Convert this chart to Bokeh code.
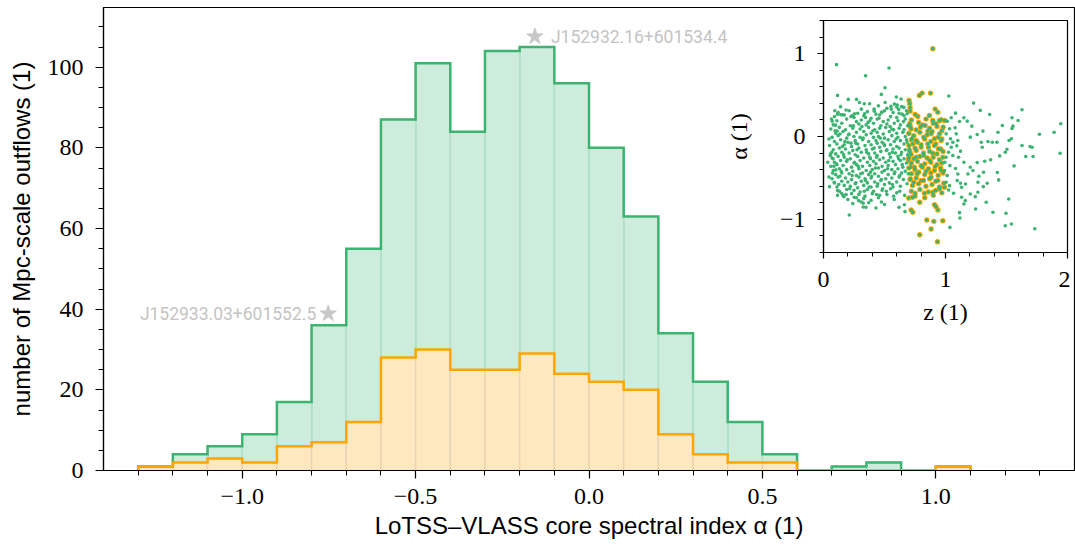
from bokeh.plotting import figure
from bokeh.models import FixedTicker, Range1d
from bokeh.layouts import column
from bokeh.core.properties import value
from bokeh.embed import file_html
from bokeh.resources import INLINE

# ---------------- data ----------------
bin_edges = [-1.3, -1.2, -1.1, -1.0, -0.9, -0.8, -0.7, -0.6, -0.5, -0.4, -0.3, -0.2,
             -0.1, 0.0, 0.1, 0.2, 0.3, 0.4, 0.5, 0.6, 0.7, 0.8, 0.9, 1.0, 1.1]
all_counts = [1, 4, 6, 9, 17, 36, 55, 87, 101, 84, 104, 105, 96, 80, 63, 34, 22, 12, 4, 0, 1, 2, 0, 1]
sub_counts = [1, 2, 3, 2, 6, 7, 12, 28, 30, 25, 25, 29, 24, 22, 20, 9, 4, 2, 2, 0, 0, 0, 0, 1]

x_major = [-1.0, -0.5, 0.0, 0.5, 1.0]
x_major_labels = ["\u22121.0", "\u22120.5", "0.0", "0.5", "1.0"]
x_minor = [-1.3, -1.2, -1.1, -1.0, -0.9, -0.8, -0.7, -0.6, -0.5, -0.4, -0.3, -0.2, -0.1,
           0.0, 0.1, 0.2, 0.3, 0.4, 0.5, 0.6, 0.7, 0.8, 0.9, 1.0, 1.1, 1.2, 1.3]
y_major = [0, 20, 40, 60, 80, 100]
y_minor = [0, 5, 10, 15, 20, 25, 30, 35, 40, 45, 50, 55, 60, 65, 70, 75, 80, 85, 90, 95, 100, 105, 110]

star_alpha = [-0.156, -0.752]
star_count = [107.6, 38.9]
star_names = ["J152932.16+601534.4", "J152933.03+601552.5"]

# inset: (z, alpha)
green_sparse = [
    (0.107, 0.867), (0.345, 0.734), (0.537, 0.827), (0.115, 0.496), (0.203, 0.448), (0.271, 0.448),
    (0.334, 0.395), (0.378, 0.395), (0.504, 0.589), (0.474, 0.508), (0.597, 0.476), (0.636, 0.452),
    (0.581, 0.391), (0.093, 0.31), (0.071, 0.185), (0.142, 0.262), (0.159, 0.262), (0.238, 0.254),
    (0.255, 0.274), (0.337, 0.274), (0.416, 0.306), (0.479, 0.294), (0.553, 0.363), (0.6, 0.355),
    (0.616, 0.327), (0.658, 0.351), (0.685, 0.274), (0.099, 0.137), (0.112, 0.065),
    (1.027, 0.488), (1.23, 0.403), (1.285, 0.315), (1.627, 0.323), (1.362, 0.266), (1.178, 0.185),
    (1.151, 0.226), (1.047, 0.226), (1.082, 0.282), (1.545, 0.226), (1.595, 0.194), (1.466, 0.133),
    (1.553, 0.125), (1.545, 0.097), (1.945, 0.153), (1.89, 0.052), (1.77, 0.028), (1.43, 0.052),
    (1.307, 0.065), (1.26, 0.024), (1.216, 0.125), (1.079, 0.105), (1.115, 0.181), (1.203, -0.008),
    (1.54, -0.028), (1.521, -0.048), (1.627, -0.109), (1.693, -0.121), (1.71, -0.129), (1.94, -0.202),
    (1.718, -0.242), (1.504, -0.153), (1.49, -0.19), (1.422, -0.069), (1.384, -0.069), (1.348, -0.06),
    (1.301, -0.129), (1.293, -0.069), (1.444, -0.234), (1.562, -0.355), (1.658, -0.242), (1.37, -0.282),
    (1.321, -0.298), (1.26, -0.315), (1.123, -0.177), (1.093, -0.113), (1.06, -0.23), (1.203, -0.371),
    (1.312, -0.431), (1.274, -0.48), (1.164, -0.573), (1.132, -0.613), (1.123, -0.565), (1.342, -0.565),
    (1.31, -0.605), (1.266, -0.673), (1.244, -0.726), (1.203, -0.694), (1.162, -0.774), (1.151, -0.815),
    (1.334, -0.794), (1.247, -0.875), (1.389, -0.915), (1.518, -0.754), (1.496, -0.927), (1.54, -1.056),
    (1.49, -1.077), (1.732, -1.113), (1.115, -0.919), (1.118, -0.984), (1.036, -1.097), (1.082, -0.387),
    (1.101, -0.452), (1.096, -0.532), (1.033, -0.593), (1.066, -0.685), (1.132, -0.734), (1.184, -0.452),
    (1.225, -0.411), (1.425, -0.435), (1.436, -0.524), (1.266, -0.552), (1.107, -0.25), (1.151, -0.31),
    (0.211, -0.948), (0.619, -0.855), (0.663, -0.823), (0.668, -0.907), (0.43, -0.863), (0.348, -0.855),
    (0.326, -0.806), (0.288, -0.774), (0.252, -0.734), (0.167, -0.726), (0.148, -0.685), (0.115, -0.653),
    (0.049, -0.605), (0.088, -0.552), (0.101, -0.403), (0.068, -0.19), (0.058, -0.21), (0.079, -0.27),
    (1.014, 0.185), (1.033, 0.093), (1.005, 0.032), (1.041, -0.028), (1.014, -0.089), (1.047, -0.129),
    (1.025, -0.19), (1.005, -0.25), (0.995, -0.31), (1.036, -0.351), (0.992, -0.411), (1.014, -0.472),
    (1.005, -0.552), (1.025, -0.645), (1.088, 0.032), (1.101, -0.048), (1.06, -0.069),
]

green_cloud = [
    (0.14, 0.36), (0.31, 0.33), (0.45, 0.37), (0.52, 0.34), (0.64, 0.36),
    (0.12, 0.29), (0.21, 0.31), (0.28, 0.28), (0.36, 0.30), (0.43, 0.27), (0.50, 0.31), (0.57, 0.29), (0.62, 0.28), (0.68, 0.31),
    (0.09, 0.24), (0.17, 0.26), (0.25, 0.23), (0.33, 0.25), (0.39, 0.22), (0.46, 0.26), (0.55, 0.24), (0.60, 0.23), (0.66, 0.25),
    (0.11, 0.19), (0.19, 0.21), (0.27, 0.18), (0.31, 0.20), (0.38, 0.19), (0.44, 0.21), (0.49, 0.18), (0.53, 0.20), (0.61, 0.19), (0.67, 0.21),
    (0.08, 0.14), (0.15, 0.16), (0.22, 0.13), (0.29, 0.15), (0.35, 0.14), (0.41, 0.16), (0.47, 0.13), (0.52, 0.15), (0.58, 0.16), (0.63, 0.14), (0.69, 0.13),
    (0.06, 0.09), (0.13, 0.11), (0.18, 0.08), (0.24, 0.10), (0.30, 0.09), (0.37, 0.11), (0.42, 0.08), (0.46, 0.10), (0.51, 0.11), (0.56, 0.09), (0.62, 0.10), (0.66, 0.08),
    (0.10, 0.04), (0.16, 0.06), (0.21, 0.03), (0.27, 0.05), (0.33, 0.06), (0.39, 0.04), (0.44, 0.05), (0.49, 0.03), (0.54, 0.06), (0.60, 0.04), (0.65, 0.05), (0.70, 0.03),
    (0.07, -0.01), (0.12, 0.01), (0.19, -0.02), (0.25, 0.00), (0.30, -0.01), (0.35, 0.02), (0.41, -0.01), (0.45, 0.00), (0.50, -0.02), (0.56, 0.01), (0.61, -0.01), (0.67, 0.00),
    (0.09, -0.06), (0.14, -0.04), (0.20, -0.07), (0.26, -0.05), (0.32, -0.04), (0.37, -0.06), (0.43, -0.05), (0.48, -0.07), (0.53, -0.04), (0.58, -0.06), (0.63, -0.05), (0.68, -0.04),
    (0.05, -0.11), (0.11, -0.09), (0.17, -0.10), (0.23, -0.12), (0.28, -0.09), (0.34, -0.11), (0.39, -0.10), (0.44, -0.08), (0.50, -0.11), (0.55, -0.10), (0.60, -0.12), (0.66, -0.09),
    (0.08, -0.16), (0.13, -0.14), (0.18, -0.15), (0.24, -0.17), (0.29, -0.14), (0.35, -0.16), (0.40, -0.15), (0.46, -0.13), (0.52, -0.16), (0.57, -0.15), (0.62, -0.14), (0.67, -0.16),
    (0.10, -0.21), (0.15, -0.19), (0.21, -0.20), (0.26, -0.22), (0.31, -0.19), (0.37, -0.21), (0.42, -0.20), (0.47, -0.18), (0.54, -0.21), (0.59, -0.20), (0.64, -0.19), (0.69, -0.22),
    (0.07, -0.26), (0.12, -0.24), (0.17, -0.25), (0.22, -0.27), (0.28, -0.24), (0.33, -0.26), (0.38, -0.25), (0.44, -0.23), (0.49, -0.26), (0.55, -0.25), (0.61, -0.24), (0.66, -0.27),
    (0.09, -0.31), (0.14, -0.29), (0.19, -0.30), (0.25, -0.32), (0.30, -0.29), (0.36, -0.31), (0.41, -0.30), (0.46, -0.28), (0.51, -0.31), (0.57, -0.30), (0.63, -0.29), (0.68, -0.32),
    (0.06, -0.36), (0.11, -0.34), (0.16, -0.35), (0.23, -0.37), (0.27, -0.34), (0.32, -0.36), (0.38, -0.35), (0.43, -0.33), (0.48, -0.36), (0.53, -0.35), (0.59, -0.34), (0.65, -0.37),
    (0.08, -0.41), (0.13, -0.39), (0.19, -0.40), (0.24, -0.42), (0.29, -0.39), (0.35, -0.41), (0.40, -0.40), (0.45, -0.38), (0.50, -0.41), (0.56, -0.40), (0.61, -0.39), (0.67, -0.42),
    (0.10, -0.46), (0.15, -0.44), (0.21, -0.45), (0.27, -0.47), (0.32, -0.44), (0.37, -0.46), (0.42, -0.45), (0.48, -0.43), (0.53, -0.46), (0.58, -0.45), (0.64, -0.44),
    (0.07, -0.51), (0.12, -0.49), (0.18, -0.50), (0.23, -0.52), (0.29, -0.49), (0.34, -0.51), (0.39, -0.50), (0.45, -0.48), (0.51, -0.51), (0.56, -0.50), (0.62, -0.49),
    (0.09, -0.56), (0.15, -0.54), (0.20, -0.55), (0.26, -0.57), (0.31, -0.54), (0.36, -0.56), (0.42, -0.55), (0.47, -0.53), (0.54, -0.56), (0.60, -0.55),
    (0.11, -0.61), (0.17, -0.59), (0.22, -0.60), (0.28, -0.62), (0.33, -0.59), (0.39, -0.61), (0.44, -0.60), (0.50, -0.58), (0.57, -0.61), (0.63, -0.60),
    (0.13, -0.66), (0.19, -0.64), (0.25, -0.65), (0.30, -0.67), (0.36, -0.64), (0.41, -0.66), (0.48, -0.65), (0.55, -0.63),
    (0.16, -0.71), (0.23, -0.69), (0.29, -0.70), (0.34, -0.72), (0.40, -0.69), (0.46, -0.71), (0.52, -0.70), (0.60, -0.68),
    (0.20, -0.76), (0.27, -0.74), (0.33, -0.75), (0.39, -0.77), (0.45, -0.74), (0.58, -0.76),
    (0.24, -0.81), (0.31, -0.79), (0.37, -0.80), (0.50, -0.82),
    (0.045, -0.03), (0.095, 0.07), (0.155, -0.12), (0.205, 0.02), (0.265, -0.08), (0.315, 0.12), (0.355, -0.19),
    (0.405, 0.07), (0.465, -0.02), (0.515, -0.17), (0.575, 0.08), (0.635, -0.22), (0.685, -0.07),
    (0.055, -0.23), (0.105, -0.33), (0.145, -0.42), (0.195, -0.28), (0.235, -0.47), (0.285, -0.36), (0.345, -0.53),
    (0.385, -0.27), (0.425, -0.38), (0.475, -0.52), (0.535, -0.29), (0.585, -0.43), (0.645, -0.34), (0.695, -0.45),
    (0.075, -0.44), (0.125, -0.58), (0.165, -0.22), (0.215, -0.63), (0.255, -0.31), (0.305, -0.45), (0.335, -0.66),
    (0.395, -0.48), (0.435, -0.25), (0.485, -0.63), (0.525, -0.39), (0.565, -0.58), (0.615, -0.27), (0.655, -0.52),
    (0.085, -0.36), (0.135, 0.03), (0.175, -0.06), (0.245, 0.13), (0.275, -0.16), (0.325, -0.02), (0.365, 0.17),
    (0.415, -0.14), (0.455, 0.22), (0.495, -0.09), (0.545, 0.12), (0.595, -0.03), (0.655, 0.18),
    (0.065, 0.21), (0.115, 0.27), (0.185, 0.32), (0.225, 0.24), (0.295, 0.41), (0.345, 0.23), (0.415, 0.33),
    (0.475, 0.29), (0.505, 0.41), (0.555, 0.33), (0.605, 0.38), (0.645, 0.27),
    (0.045, -0.49), (0.185, -0.70), (0.265, -0.56), (0.325, -0.85), (0.375, -0.61), (0.435, -0.70), (0.475, -0.79),
    (0.515, -0.66), (0.575, -0.72), (0.625, -0.66), (0.665, -0.71),
    (0.035, -0.31), (0.115, -0.71), (0.135, -0.48), (0.225, -0.08), (0.385, -0.43), (0.445, -0.57), (0.565, -0.19),
    (0.625, -0.47), (0.685, -0.57), (0.705, -0.15), (0.715, -0.37), (0.725, -0.02),
]

orange_points = [
    (0.896, 1.06), (0.786, 0.496), (0.808, 0.524), (0.877, 0.524), (0.701, 0.435), (0.707, 0.395),
    (0.71, 0.347), (0.71, 0.306), (0.915, 0.331), (0.937, 0.294), (0.751, 0.266), (0.773, 0.242),
    (0.868, 0.254), (0.707, 0.153), (0.718, 0.093), (0.795, 0.113), (0.833, 0.133), (0.964, 0.202),
    (0.992, 0.194), (0.896, 0.194), (0.923, 0.153), (0.855, 0.065), (0.882, 0.032), (0.951, 0.032),
    (0.981, 0.113), (0.822, -0.008), (0.759, -0.048), (0.732, -0.089), (0.91, -0.028), (0.964, -0.048),
    (0.855, -0.089), (0.8, -0.129), (0.704, -0.169), (0.718, -0.218), (0.696, -0.282), (0.718, -0.323),
    (0.759, -0.25), (0.822, -0.23), (0.896, -0.202), (0.942, -0.149), (0.978, -0.25), (0.871, -0.29),
    (0.8, -0.351), (0.745, -0.371), (0.915, -0.363), (0.964, -0.411), (0.841, -0.419), (0.767, -0.452),
    (0.712, -0.512), (0.74, -0.552), (0.8, -0.532), (0.882, -0.492), (0.937, -0.532), (0.986, -0.565),
    (0.992, -0.613), (0.951, -0.633), (0.896, -0.673), (0.827, -0.685), (0.751, -0.685), (0.699, -0.742),
    (0.729, -0.734), (0.789, -0.794), (0.91, -0.823), (0.937, -0.887), (0.923, -0.847), (0.718, -0.887),
    (0.732, -0.915), (0.847, -1.008), (0.904, -1.024), (0.978, -1.016), (0.882, -1.117), (0.789, -1.185),
    (0.934, -1.27),
    (0.72, 0.20), (0.78, 0.17), (0.84, 0.21), (0.90, 0.16), (0.95, 0.19),
    (0.71, 0.12), (0.76, 0.08), (0.81, 0.14), (0.87, 0.10), (0.93, 0.12), (0.97, 0.07),
    (0.70, 0.04), (0.74, 0.01), (0.79, 0.05), (0.85, 0.02), (0.89, 0.06), (0.94, -0.01),
    (0.72, -0.04), (0.77, -0.07), (0.83, -0.03), (0.88, -0.06), (0.92, -0.09), (0.97, -0.03),
    (0.70, -0.11), (0.75, -0.14), (0.80, -0.10), (0.86, -0.13), (0.91, -0.11), (0.96, -0.15),
    (0.71, -0.19), (0.76, -0.17), (0.82, -0.20), (0.87, -0.18), (0.93, -0.21), (0.98, -0.18),
    (0.70, -0.25), (0.74, -0.27), (0.79, -0.24), (0.85, -0.26), (0.90, -0.25), (0.95, -0.28),
    (0.72, -0.32), (0.77, -0.30), (0.83, -0.33), (0.88, -0.31), (0.93, -0.34), (0.97, -0.32),
    (0.70, -0.38), (0.75, -0.40), (0.81, -0.37), (0.86, -0.39), (0.91, -0.41), (0.96, -0.38),
    (0.72, -0.45), (0.78, -0.43), (0.83, -0.46), (0.88, -0.44), (0.94, -0.47), (0.98, -0.44),
    (0.71, -0.52), (0.76, -0.50), (0.82, -0.53), (0.87, -0.51), (0.92, -0.54),
    (0.73, -0.59), (0.78, -0.57), (0.84, -0.60), (0.89, -0.58), (0.95, -0.61),
    (0.72, -0.66), (0.79, -0.64), (0.86, -0.67), (0.92, -0.65), (0.97, -0.68),
    (0.75, -0.72), (0.83, -0.74), (0.90, -0.71),
]

inset_x_major = [0, 1, 2]
inset_x_minor = [0, 0.2, 0.4, 0.6, 0.8, 1.0, 1.2, 1.4, 1.6, 1.8, 2.0]
inset_y_major = [-1, 0, 1]
inset_y_minor = [-1.4, -1.2, -1.0, -0.8, -0.6, -0.4, -0.2, 0.0, 0.2, 0.4, 0.6, 0.8, 1.0, 1.2, 1.4]

# ---------------- styling constants ----------------
GREEN = "#3cb371"
ORANGE = "#ffa500"
SERIF = "Liberation Serif"
SANS = "Liberation Sans"


def step_outline(edges, counts):
    xs, ys = [edges[0]], [0]
    for i, c in enumerate(counts):
        xs += [edges[i], edges[i + 1]]
        ys += [c, c]
    xs.append(edges[-1])
    ys.append(0)
    return xs, ys


def style_axes(fig, tick_size, major_out, minor_out):
    for ax in (fig.xaxis[0], fig.yaxis[0]):
        ax.axis_line_color = "black"
        ax.axis_line_width = 1.2
        ax.major_tick_line_color = "black"
        ax.minor_tick_line_color = "black"
        ax.major_tick_line_width = 1.2
        ax.minor_tick_line_width = 1.0
        ax.major_tick_in = 0
        ax.minor_tick_in = 0
        ax.major_tick_out = major_out
        ax.minor_tick_out = minor_out
        ax.major_label_text_font = SERIF
        ax.major_label_text_font_size = tick_size
        ax.major_label_text_color = "black"
        ax.axis_label_text_font_style = "normal"
        ax.axis_label_text_color = "black"
    fig.xgrid.visible = False
    fig.ygrid.visible = False
    fig.outline_line_color = "black"
    fig.outline_line_width = 1.2
    fig.outline_line_alpha = 1.0


# ---------------- main histogram ----------------
p = figure(frame_width=971, frame_height=463,
           x_range=Range1d(-1.4, 1.4), y_range=Range1d(0, 114.8),
           min_border_left=103, min_border_right=1, min_border_top=7, min_border_bottom=79,
           output_backend="svg", toolbar_location=None,
           background_fill_color="white", border_fill_color="white")

lefts = bin_edges[:-1]
rights = bin_edges[1:]
p.quad(left=lefts, right=rights, bottom=0, top=all_counts,
       fill_color=GREEN, fill_alpha=0.25, line_color="#b3e0c6", line_width=1.5)
p.quad(left=lefts, right=rights, bottom=0, top=sub_counts,
       fill_color="#ffe8c0", fill_alpha=1.0, line_color="#e6d5b4", line_width=1.5)

gx, gy = step_outline(bin_edges, all_counts)
p.line(gx, gy, line_color=GREEN, line_width=2.5, line_join="miter")
ox, oy = step_outline(bin_edges, sub_counts)
p.line(ox, oy, line_color=ORANGE, line_width=2.5, line_join="miter")

p.scatter(x=star_alpha, y=star_count, marker="star", size=17,
          fill_color="#c8c8c8", line_color="#c8c8c8")
p.text(x=[star_alpha[0]], y=[star_count[0]], text=[star_names[0]],
       text_font=value("Roboto"), text_font_size="17.5px", text_color="#c4c4c4",
       text_align="left", text_baseline="middle", x_offset=16)
p.text(x=[star_alpha[1]], y=[star_count[1]], text=[star_names[1]],
       text_font=value("Roboto"), text_font_size="17.5px", text_color="#c4c4c4",
       text_align="right", text_baseline="middle", x_offset=-12)

p.xaxis.ticker = FixedTicker(ticks=x_major, minor_ticks=x_minor)
p.xaxis.major_label_overrides = {v: s for v, s in zip(x_major, x_major_labels)}
p.yaxis.ticker = FixedTicker(ticks=y_major, minor_ticks=y_minor)
p.xaxis.axis_label = "LoTSS\u2013VLASS core spectral index \u03b1 (1)"
p.yaxis.axis_label = "number of Mpc-scale outflows (1)"
style_axes(p, "24px", 8, 5)
for ax in (p.xaxis[0], p.yaxis[0]):
    ax.axis_label_text_font = SANS
    ax.axis_label_text_font_size = "24px"
p.xaxis.major_label_standoff = 10
p.yaxis.major_label_standoff = 12
p.xaxis.axis_label_standoff = 5
p.yaxis.axis_label_standoff = 10

# ---------------- inset scatter ----------------
ins = figure(frame_width=244, frame_height=232,
             x_range=Range1d(0, 2), y_range=Range1d(-1.4, 1.4),
             min_border_left=99, min_border_right=5, min_border_top=10, min_border_bottom=90,
             output_backend="svg", toolbar_location=None,
             background_fill_color="white", border_fill_alpha=0.0,
             margin=(-539, 0, 207, 720))

green_all = green_cloud + green_sparse + orange_points
ins.scatter(x=[pt[0] for pt in orange_points], y=[pt[1] for pt in orange_points],
            size=5.4, fill_color=ORANGE, line_color=ORANGE, line_width=0)
ins.scatter(x=[pt[0] for pt in green_all], y=[pt[1] for pt in green_all],
            size=3.6, fill_color=GREEN, line_color=GREEN, line_width=0)

ins.xaxis.ticker = FixedTicker(ticks=inset_x_major, minor_ticks=inset_x_minor)
ins.yaxis.ticker = FixedTicker(ticks=inset_y_major, minor_ticks=inset_y_minor)
ins.yaxis.major_label_overrides = {-1: "\u22121", 0: "0", 1: "1"}
ins.xaxis.axis_label = "z (1)"
ins.yaxis.axis_label = "\u03b1 (1)"
style_axes(ins, "24px", 6, 4)
for ax in (ins.xaxis[0], ins.yaxis[0]):
    ax.axis_label_text_font = SERIF
    ax.axis_label_text_font_size = "24px"
ins.xaxis.major_label_standoff = 13
ins.yaxis.major_label_standoff = 12
ins.xaxis.axis_label_standoff = 9
ins.yaxis.axis_label_standoff = 25

layout = column(p, ins, spacing=0)
open("out.html", "w").write(file_html(layout, INLINE))
